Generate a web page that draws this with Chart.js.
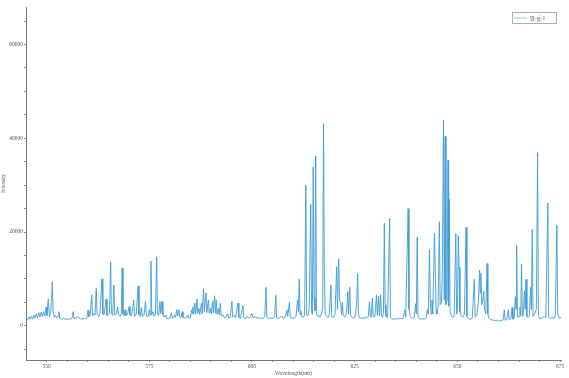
<!DOCTYPE html>
<html>
<head>
<meta charset="utf-8">
<script src="https://cdn.jsdelivr.net/npm/chart.js@4"></script>
<style>
html,body{margin:0;padding:0;background:#fff;}
#wrap{width:569px;height:378px;}
</style>
</head>
<body>
<div id="wrap"><canvas id="c" width="569" height="378"></canvas></div>
<script>
const seriesLabel = "铁-yj-1";
const xTickLabels = [550, 575, 600, 625, 650, 675];
const yTickLabels = [0, 20000, 40000, 60000];

const wavelength = [
545.0,545.4,545.7,546.0,546.3,546.6,546.9,547.2,547.5,547.8,548.1,548.4,548.7,549.0,549.3,549.6,549.9,550.1,550.4,550.7,
551.0,551.3,551.4,551.6,551.9,552.2,552.5,552.8,553.0,553.2,553.5,553.8,554.1,554.4,554.7,555.0,555.4,555.8,556.2,556.5,
556.7,557.0,557.3,557.6,557.9,558.3,558.7,559.1,559.5,559.8,560.1,560.3,560.6,561.0,561.2,561.5,561.8,562.1,562.3,562.7,
563.0,563.5,563.7,564.0,564.5,564.7,565.0,565.3,565.6,565.8,566.1,566.4,566.6,567.0,567.3,567.5,567.9,568.2,568.4,568.6,
568.9,569.1,569.3,569.7,570.1,570.3,570.7,571.2,571.4,571.8,572.3,572.5,572.8,573.1,573.3,573.7,574.1,574.3,574.7,575.0,
575.2,575.4,575.6,575.9,576.1,576.5,576.8,577.0,577.3,577.6,577.8,578.1,578.3,578.6,579.0,579.2,579.6,580.0,580.4,580.6,
580.9,581.2,581.4,581.7,581.9,582.2,582.4,582.7,583.0,583.2,583.6,584.0,584.4,584.6,585.0,585.3,585.45,585.6,585.8,586.1,
586.3,586.6,586.8,587.1,587.3,587.7,587.9,588.2,588.4,588.8,589.0,589.4,589.6,589.9,590.1,590.4,590.6,590.9,591.1,591.3,
591.5,591.8,592.0,592.3,592.5,592.9,593.2,593.6,594.1,594.3,594.7,595.1,595.3,595.8,596.0,596.6,596.8,597.2,597.8,598.0,
598.4,598.8,599.2,599.6,600.0,600.3,600.7,601.1,601.5,601.9,602.3,602.7,603.1,603.4,603.6,604.0,604.4,604.8,605.2,605.5,
605.8,606.0,606.4,606.8,607.2,607.5,607.9,608.2,608.5,608.7,609.1,609.3,609.6,609.9,610.3,610.7,611.1,611.3,611.5,611.7,
611.9,612.1,612.5,612.8,613.1,613.3,613.6,613.9,614.3,614.5,614.7,614.9,615.1,615.3,615.5,615.7,615.9,616.2,616.5,616.9,
617.2,617.4,617.6,617.8,618.1,618.5,618.8,619.2,619.4,619.8,620.2,620.6,620.8,621.1,621.3,621.6,621.8,622.0,622.2,622.6,
623.0,623.3,623.5,623.8,624.0,624.4,624.8,625.2,625.5,625.7,625.9,626.2,626.6,627.0,627.5,628.0,628.3,628.6,628.8,629.0,
629.3,629.5,629.9,630.3,630.5,630.8,631.0,631.3,631.5,631.8,632.0,632.2,632.4,632.6,633.0,633.5,633.7,634.0,634.5,635.0,
635.5,636.0,636.4,636.8,637.2,637.4,638.0,638.2,638.5,639.0,639.5,639.8,640.0,640.2,640.4,640.8,641.2,641.6,642.0,642.4,
642.7,642.9,643.2,643.4,643.6,643.8,644.0,644.4,644.6,644.8,645.0,645.3,645.6,645.8,646.1,646.3,646.6,646.8,647.0,647.2,
647.5,647.7,647.85,648.0,648.2,648.5,648.8,649.2,649.6,649.8,650.0,650.2,650.4,650.6,650.9,651.3,651.7,652.1,652.3,652.7,
653.1,653.6,654.1,654.3,654.7,655.1,655.4,655.5,655.7,655.9,656.1,656.4,656.6,656.9,657.2,657.4,657.7,658.2,658.7,659.2,
659.7,660.2,660.7,661.1,661.4,661.6,662.0,662.4,662.6,663.0,663.3,663.5,663.8,664.1,664.25,664.4,664.6,665.0,665.2,665.4,
665.6,665.8,666.0,666.3,666.5,666.7,666.9,667.2,667.5,667.8,668.0,668.2,668.4,668.8,669.2,669.5,669.7,670.0,670.5,671.0,
671.5,672.0,672.2,672.6,673.0,673.4,673.8,674.2,674.4,674.8,675.2
];

const intensity = [
1500,1300,1900,1400,2000,1500,2300,1600,2500,1700,2800,1900,2900,2000,3000,2100,4000,2200,5700,2000,
2600,7300,9400,3000,1800,2200,1700,2100,3000,1600,1500,1400,1600,1400,1500,1300,1500,1400,1600,3000,
1500,1800,1600,2000,1700,1500,1400,1600,1500,1700,3300,1900,2200,6600,2100,2600,2300,8000,2400,2000,
2800,10000,2500,2300,5700,2200,2400,2600,13600,2600,2200,8700,2300,2500,4000,2400,2000,2600,12300,2500,
2100,3400,2200,2400,4100,2300,2100,5500,2000,2300,8500,2400,2000,3900,2000,2200,5200,2100,1900,3400,
2200,13800,2400,3000,2000,2300,14700,2500,2200,5200,2600,5200,2400,1800,2300,1600,1500,1600,2800,1600,
1700,2300,1800,3400,2100,3400,2000,1700,3000,1800,1600,1700,2300,1600,1800,3400,2600,4000,2400,4800,
2500,5700,2600,3700,2400,4800,2600,7900,3000,7000,2800,5500,2700,3700,2500,5200,2800,6400,2700,5500,
2500,3700,2300,4800,2100,2300,1800,1700,2600,1700,1800,5200,1900,2300,1700,4800,1800,1600,4300,1700,
1500,2000,1600,1900,2600,1700,2000,1600,1800,1500,1700,1500,2000,8200,1800,1500,1700,1500,1600,1900,
6500,1700,1500,1800,2000,1600,1700,2200,3400,2000,5000,1900,1600,1700,1600,2000,5500,3000,10000,2400,
3100,2000,1800,2300,30000,2500,2100,3500,25900,3000,2400,33900,6000,3200,36200,2600,2000,2300,1800,2500,
3800,43100,12300,2800,2100,1800,2300,8700,2000,1800,2500,12600,3500,14300,5500,4700,2400,5000,2200,1800,
2600,7300,2500,8200,2200,1700,1600,2300,5500,11100,2600,1700,1600,1700,1600,1800,2000,5200,2000,1800,
5900,1900,2000,6600,2200,6300,2200,6600,2000,1800,3000,21900,4500,2000,1700,22900,1900,1500,1400,1500,
1400,1600,1500,1600,3400,1800,25000,3500,2000,1600,1800,4700,2500,18900,2000,1500,1400,1500,1400,1800,
3600,2500,16200,5000,2500,5500,2500,19700,12000,3200,2500,4000,22200,4500,5000,9800,43800,5500,40400,4500,
5500,35300,4200,27000,3000,2200,1800,2000,19700,2500,3500,19200,12500,3000,2000,1800,2500,21000,2000,1500,
1400,1600,9900,1800,2200,5200,11900,7000,11200,4500,5000,7300,3500,2500,13300,2500,1600,1300,1200,1100,
1200,1000,1100,1200,3400,1200,1300,3400,1300,1500,3900,1400,1600,6200,3500,17200,1800,2000,3900,2200,
13200,2000,2300,7500,3500,9900,2000,1800,2200,8200,3500,20600,2000,2500,3500,36900,2200,1500,1600,2000,
1700,26200,1800,1500,1900,1500,2000,21500,2500,1600,1800
];

const points = wavelength.map((w, i) => ({x: w, y: intensity[i]}));
const FONT = {family: "'Liberation Serif', 'DejaVu Serif', serif", size: 5.5};
const LINE_COLOR = '#3d9bd6';

const legendBox = {
  id: 'legendBox',
  afterDraw(chart) {
    const ctx = chart.ctx;
    const ds = chart.data.datasets[0];
    ctx.save();
    ctx.strokeStyle = '#999';
    ctx.lineWidth = 0.8;
    ctx.strokeRect(512.5, 12.5, 44, 11);
    ctx.strokeStyle = '#6fb6e4';
    ctx.lineWidth = 0.8;
    ctx.beginPath();
    ctx.moveTo(514, 18);
    ctx.lineTo(527, 18);
    ctx.stroke();
    ctx.fillStyle = '#555';
    ctx.font = "5px 'Noto Sans CJK SC', 'Liberation Serif', serif";
    ctx.textBaseline = 'middle';
    ctx.fillText(ds.label, 530, 18);
    ctx.restore();
  }
};

new Chart(document.getElementById('c'), {
  type: 'line',
  data: {
    datasets: [{
      label: seriesLabel,
      data: points,
      borderColor: LINE_COLOR,
      borderWidth: 0.9,
      pointRadius: 0,
      tension: 0,
      fill: false
    }]
  },
  options: {
    responsive: false,
    animation: false,
    layout: {padding: {top: 7, right: 8, left: 0, bottom: 0}},
    plugins: {legend: {display: false}, tooltip: {enabled: false}},
    scales: {
      x: {
        type: 'linear',
        min: 545,
        max: 675.2,
        afterBuildTicks(scale) {
          const t = [];
          for (let v = 550; v <= 675; v += 5) t.push({value: v});
          scale.ticks = t;
        },
        afterFit(scale) { scale.height = 18; },
        ticks: {
          autoSkip: false,
          maxRotation: 0,
          padding: 1,
          font: FONT,
          color: '#555',
          callback: v => xTickLabels.includes(v) ? String(v) : ''
        },
        grid: {drawOnChartArea: false, drawTicks: true, tickLength: 2, color: '#888'},
        border: {display: true, color: '#777', width: 1},
        title: {display: true, text: 'Wavelength(nm)', font: FONT, color: '#555', padding: {top: 0, bottom: 1}}
      },
      y: {
        type: 'linear',
        min: -7300,
        max: 68000,
        afterBuildTicks(scale) {
          const t = [];
          for (let v = -5000; v <= 65000; v += 5000) t.push({value: v});
          scale.ticks = t;
        },
        afterFit(scale) { scale.width = 26; },
        ticks: {
          autoSkip: false,
          padding: 1,
          font: FONT,
          color: '#555',
          callback: v => yTickLabels.includes(v) ? String(v) : ''
        },
        grid: {drawOnChartArea: false, drawTicks: true, tickLength: 2, color: '#888'},
        border: {display: true, color: '#777', width: 1},
        title: {display: true, text: 'Intensity', font: FONT, color: '#555', padding: {top: 0, bottom: 0}}
      }
    }
  },
  plugins: [legendBox]
});
</script>
</body>
</html>
